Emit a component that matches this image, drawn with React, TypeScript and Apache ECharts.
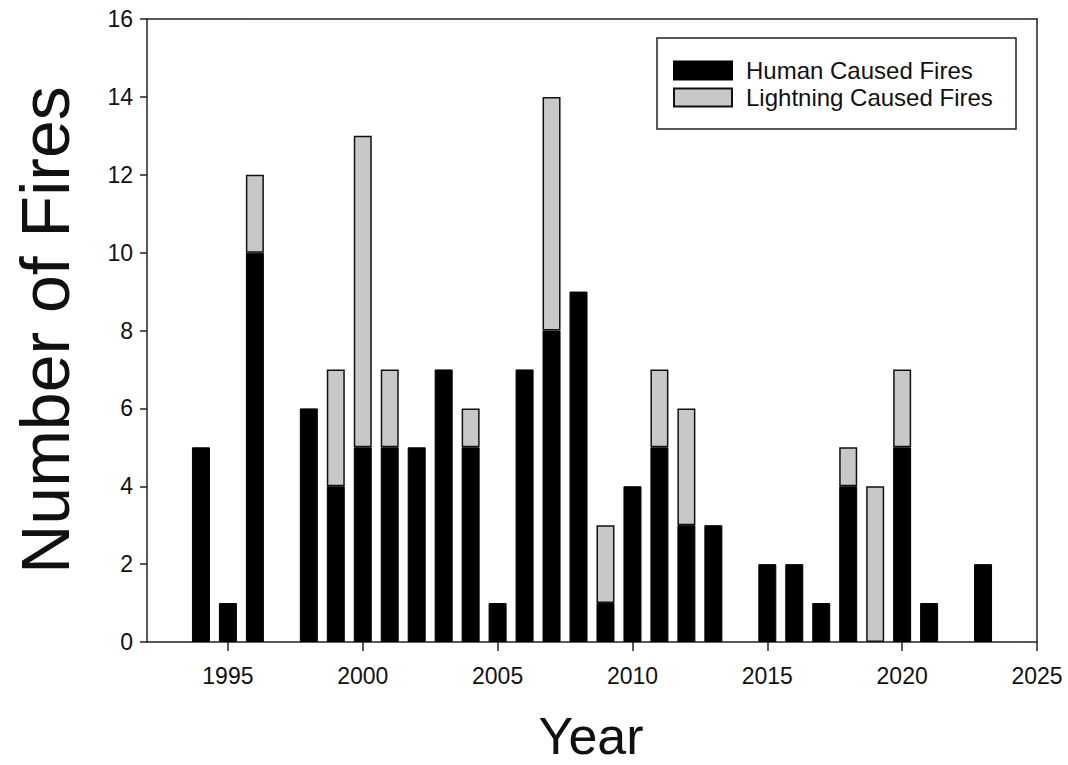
import React, { useEffect, useRef } from "react";
import * as echarts from "echarts";

const years = [1994, 1995, 1996, 1998, 1999, 2000, 2001, 2002, 2003, 2004, 2005, 2006, 2007, 2008, 2009, 2010, 2011, 2012, 2013, 2015, 2016, 2017, 2018, 2019, 2020, 2021, 2023];
const human = [5, 1, 10, 6, 4, 5, 5, 5, 7, 5, 1, 7, 8, 9, 1, 4, 5, 3, 3, 2, 2, 1, 4, 0, 5, 1, 2];
const lightning = [0, 0, 2, 0, 3, 8, 2, 0, 0, 1, 0, 0, 6, 0, 2, 0, 2, 3, 0, 0, 0, 0, 1, 4, 2, 0, 0];
const axisStart = 1992;
const axisEnd = 2025;
const tickStep = 5;
const seriesNames = ["Human Caused Fires", "Lightning Caused Fires"];

const FONT = "'Liberation Sans', Arial, sans-serif";
const LINE = "#222";

export default function App() {
  const ref = useRef<HTMLDivElement>(null);
  useEffect(() => {
    if (!ref.current) return;
    const chart = echarts.init(ref.current, null, { renderer: "svg" });
    const cats: string[] = [];
    for (let y = axisStart; y <= axisEnd; y++) cats.push(String(y));
    const lookup = (arr: number[], y: number) => {
      const i = years.indexOf(y);
      return i >= 0 && arr[i] > 0 ? arr[i] : "-";
    };
    const humanData = cats.map((c) => lookup(human, Number(c)));
    const lightData = cats.map((c) => lookup(lightning, Number(c)));
    const showTick = (_i: number, v: string) => Number(v) % tickStep === 0;
    chart.setOption({
      animation: false,
      backgroundColor: "#fff",
      textStyle: { fontFamily: FONT },
      grid: { left: 147, right: 31, top: 19, bottom: 123, containLabel: false },
      xAxis: [
        {
          type: "category",
          data: cats,
          boundaryGap: false,
          splitLine: { show: false },
          axisLine: { show: true, onZero: false, lineStyle: { color: LINE, width: 1.5 } },
          axisTick: { show: true, inside: false, length: 9, interval: showTick, lineStyle: { color: LINE, width: 1.5 } },
          axisLabel: { interval: showTick, margin: 22, fontSize: 23, color: "#111", fontFamily: FONT },
        },
        {
          type: "category",
          data: cats,
          boundaryGap: false,
          position: "top",
          splitLine: { show: false },
          axisLine: { show: true, onZero: false, lineStyle: { color: LINE, width: 1.5 } },
          axisTick: { show: false },
          axisLabel: { show: false },
        },
      ],
      yAxis: [
        {
          type: "value",
          min: 0,
          max: 16,
          interval: 2,
          splitLine: { show: false },
          axisLine: { show: true, lineStyle: { color: LINE, width: 1.5 } },
          axisTick: { show: true, inside: false, length: 7, lineStyle: { color: LINE, width: 1.5 } },
          axisLabel: { margin: 14, fontSize: 23, color: "#111", fontFamily: FONT },
        },
        {
          type: "value",
          position: "right",
          min: 0,
          max: 16,
          interval: 2,
          splitLine: { show: false },
          axisLine: { show: true, lineStyle: { color: LINE, width: 1.5 } },
          axisTick: { show: false },
          axisLabel: { show: false },
        },
      ],
      legend: {
        orient: "vertical",
        left: 673,
        top: 57,
        padding: 0,
        icon: "rect",
        itemWidth: 58,
        itemHeight: 18,
        itemGap: 0,
        data: seriesNames,
        textStyle: { fontSize: 24, lineHeight: 27, color: "#111", fontFamily: FONT, padding: [0, 0, 0, 9] },
        z: 10,
      },
      graphic: [
        {
          type: "rect",
          shape: { x: 657, y: 38, width: 359, height: 91 },
          style: { fill: "#fff", stroke: LINE, lineWidth: 1.5 },
          z: 5,
        },
        {
          type: "text",
          x: 45,
          y: 330,
          rotation: Math.PI / 2,
          style: {
            text: "Number of Fires",
            fontSize: 68,
            fontFamily: FONT,
            fill: "#111",
            textAlign: "center",
            textVerticalAlign: "middle",
          },
        },
        {
          type: "text",
          x: 591,
          y: 736,
          style: {
            text: "Year",
            fontSize: 52,
            fontFamily: FONT,
            fill: "#111",
            textAlign: "center",
            textVerticalAlign: "middle",
          },
        },
      ],
      series: [
        {
          name: seriesNames[0],
          type: "bar",
          stack: "fires",
          barWidth: 18,
          data: humanData,
          itemStyle: { color: "#000", borderColor: "#000", borderWidth: 1 },
        },
        {
          name: seriesNames[1],
          type: "bar",
          stack: "fires",
          barWidth: 18,
          data: lightData,
          itemStyle: { color: "#c8c8c8", borderColor: "#111", borderWidth: 1.5 },
        },
      ],
    });
    return () => chart.dispose();
  }, []);
  return <div ref={ref} style={{ width: 1068, height: 765, position: "absolute", left: 0, top: 0 }} />;
}
